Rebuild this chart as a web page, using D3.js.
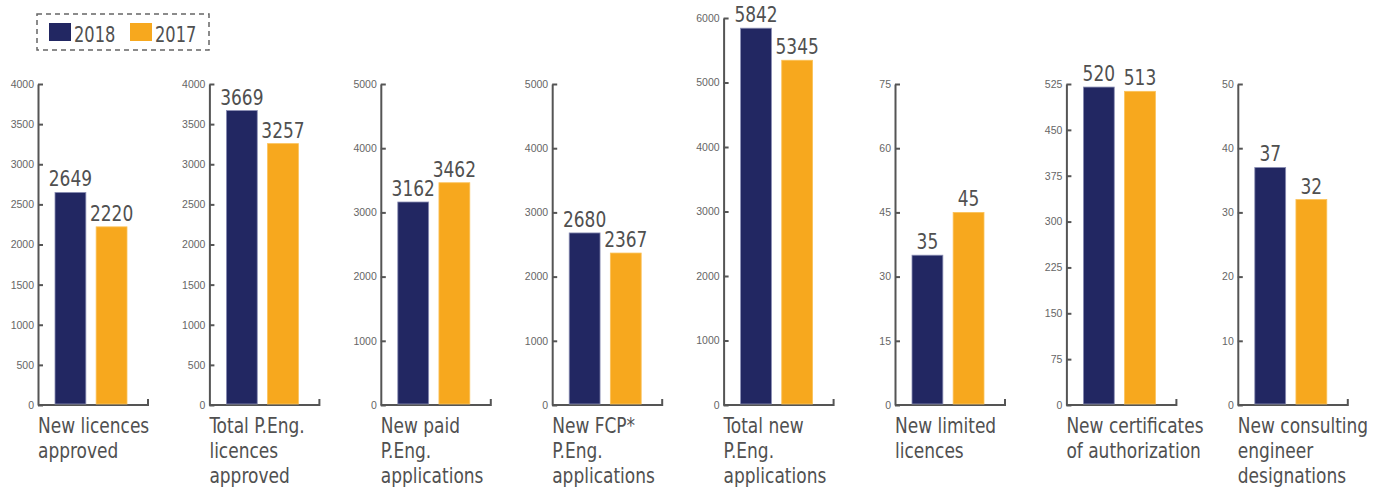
<!DOCTYPE html>
<html>
<head>
<meta charset="utf-8">
<script src="https://cdn.jsdelivr.net/npm/d3@7"></script>
<style>
  body { margin: 0; background: #fff; }
  .cond { font-family: "Liberation Sans Narrow", "DejaVu Sans Condensed", sans-serif; }
  .tick text { font-family: "Liberation Sans", sans-serif; font-size: 10.5px; fill: #666; }
</style>
</head>
<body>
<div id="chart"></div>
<script>
// chart data
var years = ["2018", "2017"];
var categories = [
  ["New licences", "approved"],
  ["Total P.Eng.", "licences", "approved"],
  ["New paid", "P.Eng.", "applications"],
  ["New FCP*", "P.Eng.", "applications"],
  ["Total new", "P.Eng.", "applications"],
  ["New limited", "licences"],
  ["New certificates", "of authorization"],
  ["New consulting", "engineer", "designations"]
];
var values2018 = [2649, 3669, 3162, 2680, 5842, 35, 520, 37];
var values2017 = [2220, 3257, 3462, 2367, 5345, 45, 513, 32];
var tickLabels = [
  [0, 500, 1000, 1500, 2000, 2500, 3000, 3500, 4000],
  [0, 500, 1000, 1500, 2000, 2500, 3000, 3500, 4000],
  [0, 1000, 2000, 3000, 4000, 5000],
  [0, 1000, 2000, 3000, 4000, 5000],
  [0, 1000, 2000, 3000, 4000, 5000, 6000],
  [0, 15, 30, 45, 60, 75],
  [0, 75, 150, 225, 300, 375, 450, 525],
  [0, 10, 20, 30, 40, 50]
];

var width = 1377, height = 488;
var colors = {"2018": "#222762", "2017": "#f7a81e"};
var textColor = "#505050";
var squeeze = 0.86; // the fallback condensed font is wider than the original

var svg = d3.select("#chart").append("svg")
    .attr("width", width)
    .attr("height", height);

// narrow text: squeezed horizontally so the glyphs keep their height
function narrowText(parent, x, y, size, txt, anchor){
    var t = parent.append("g")
        .attr("transform", "translate(" + x + "," + y + ") scale(" + squeeze + ",1)")
        .append("text")
        .attr("class", "cond")
        .attr("font-size", size)
        .attr("fill", textColor)
        .text(txt);
    if(anchor) t.attr("text-anchor", anchor);
    return t;
}

// legend
var legend = svg.append("g");
legend.append("rect")
    .attr("x", 37).attr("y", 14)
    .attr("width", 172).attr("height", 36)
    .attr("fill", "none")
    .attr("stroke", "#666")
    .attr("stroke-width", 1.5)
    .attr("stroke-dasharray", "5 4");
years.forEach(function(yr, i){
    var lx = 49 + i * 81;
    legend.append("rect")
        .attr("x", lx).attr("y", 23)
        .attr("width", 22).attr("height", 18)
        .attr("fill", colors[yr]);
    narrowText(legend, lx + 25, 42, 21, yr);
});

var baseY = 405;
var panelW = 110;

categories.forEach(function(lines, i){
    var x0 = 38 + i * 171.4;
    var top = (i == 4) ? 18 : 84;
    var g = svg.append("g").attr("transform", "translate(" + x0 + ",0)");

    var y = d3.scaleLinear()
        .domain([0, d3.max(tickLabels[i])])
        .range([baseY, top]);
    var x = d3.scaleBand()
        .domain(years)
        .range([17, 89])
        .paddingInner(0.25);

    var ax = g.append("g")
        .call(d3.axisLeft(y)
            .tickValues(tickLabels[i])
            .tickSize(-5)
            .tickSizeOuter(0)
            .tickPadding(4)
            .tickFormat(d3.format("d")));
    ax.select(".domain").attr("stroke", "#555").attr("stroke-width", 2);
    ax.selectAll(".tick line").attr("stroke", "#555").attr("stroke-width", 2);

    // baseline with small end tick
    g.append("path")
        .attr("fill", "none")
        .attr("stroke", "#555")
        .attr("stroke-width", 2)
        .attr("d", "M0," + baseY + " H" + panelW + " V" + (baseY - 6));

    var vals = [
        {year: "2018", v: values2018[i]},
        {year: "2017", v: values2017[i]}
    ];

    g.selectAll(".bar").data(vals).enter().append("rect")
        .attr("class", "bar")
        .attr("x", function(d){ return x(d.year); })
        .attr("y", function(d){ return y(d.v); })
        .attr("width", x.bandwidth())
        .attr("height", function(d){ return baseY - 1 - y(d.v); })
        .attr("fill", function(d){ return colors[d.year]; })
        .attr("stroke", function(d){ return d.year == "2018" ? "#8a8eb4" : "#fbc25a"; })
        .attr("stroke-width", 0.8);

    vals.forEach(function(d){
        narrowText(g, x(d.year) + x.bandwidth() / 2, y(d.v) - 6, 22, d.v, "middle");
    });

    lines.forEach(function(line, j){
        narrowText(g, 0, 433 + j * 25, 22, line);
    });
});
</script>
</body>
</html>
